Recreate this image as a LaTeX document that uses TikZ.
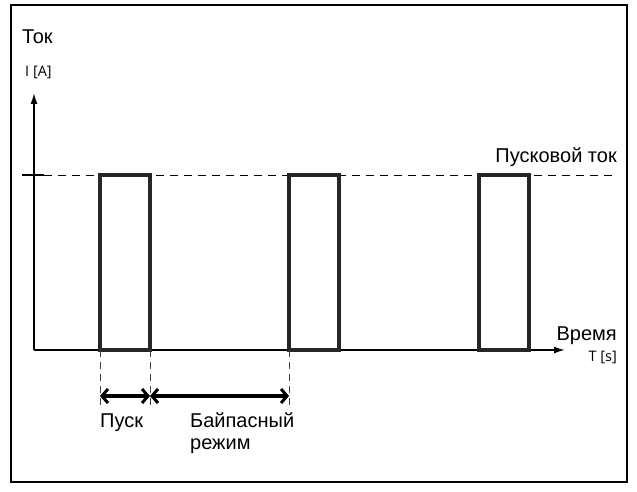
\documentclass[tikz,border=0pt]{standalone}
\usepackage{fontspec}
\setmainfont{Liberation Sans}
\newfontfamily\unitfont{Open Sans}
\usetikzlibrary{arrows.meta}
\begin{document}
\begin{tikzpicture}[x=1pt,y=-1pt,
  lbl/.style={inner sep=0pt,font=\fontsize{20}{23}\selectfont},
  unit/.style={inner sep=0pt,font=\unitfont\fontsize{14.5}{17}\selectfont},
  axisline/.style={line width=1.5pt,-{Latex[length=11pt,width=7pt]}},
  pulse/.style={line width=3.4pt,draw=black!85},
  level/.style={line width=0.9pt,dash pattern=on 8pt off 6pt},
  guide/.style={line width=0.8pt,dash pattern=on 7pt off 5pt,draw=black!75},
  span/.style={line width=3.2pt,{Straight Barb[length=6pt,width=14pt,line width=3pt]}-{Straight Barb[length=6pt,width=14pt,line width=3pt]}}
]
\useasboundingbox (0,0) rectangle (637,492);
% frame
\draw[line width=2.6pt] (11,5) rectangle (627,482);

% axes
\coordinate (O) at (34,350);
\coordinate (ytop) at (34,93);
\coordinate (xend) at (565,350);
\draw[axisline] (O) -- (ytop);
\draw[axisline] (O) -- (xend);

% start current level
\coordinate (lvlA) at (22,175);
\coordinate (lvlB) at (614,175);
\draw[line width=1.2pt] (lvlA) -- (44,175);
\draw[level] (44,175) -- (lvlB);

% pulses
\draw[pulse] (100,350) rectangle (150,175);
\draw[pulse] (289,350) rectangle (339,175);
\draw[pulse] (479,350) rectangle (529,175);

% guide lines
\coordinate (g1t) at (100,350); \coordinate (g1b) at (100,406);
\coordinate (g2t) at (150,350); \coordinate (g2b) at (150,406);
\coordinate (g3t) at (289,350); \coordinate (g3b) at (289,406);
\draw[guide] (g1t) -- (g1b);
\draw[guide] (g2t) -- (g2b);
\draw[guide] (g3t) -- (g3b);

% dimension arrows
\coordinate (d1) at (100,396);
\coordinate (d2) at (150,396);
\coordinate (d3) at (289,396);
\draw[span] (d1) -- (d2);
\draw[span] (d2) -- (d3);

% labels
\node[lbl,anchor=base west] (tok) at (22,44) {Ток};
\node[unit,anchor=base west] (ia) at (25,77) {I [A]};
\node[lbl,anchor=base east] (pt) at (617,162) {Пусковой ток};
\node[lbl,anchor=base east] (vr) at (617,340) {Время};
\node[unit,anchor=base east] (ts) at (617,361) {T [s]};
\node[lbl,anchor=base west] (pusk) at (100,427) {Пуск};
\node[lbl,anchor=base west] (bp) at (190,427) {Байпасный};
\node[lbl,anchor=base west] (rz) at (190,449) {режим};
\end{tikzpicture}
\end{document}
